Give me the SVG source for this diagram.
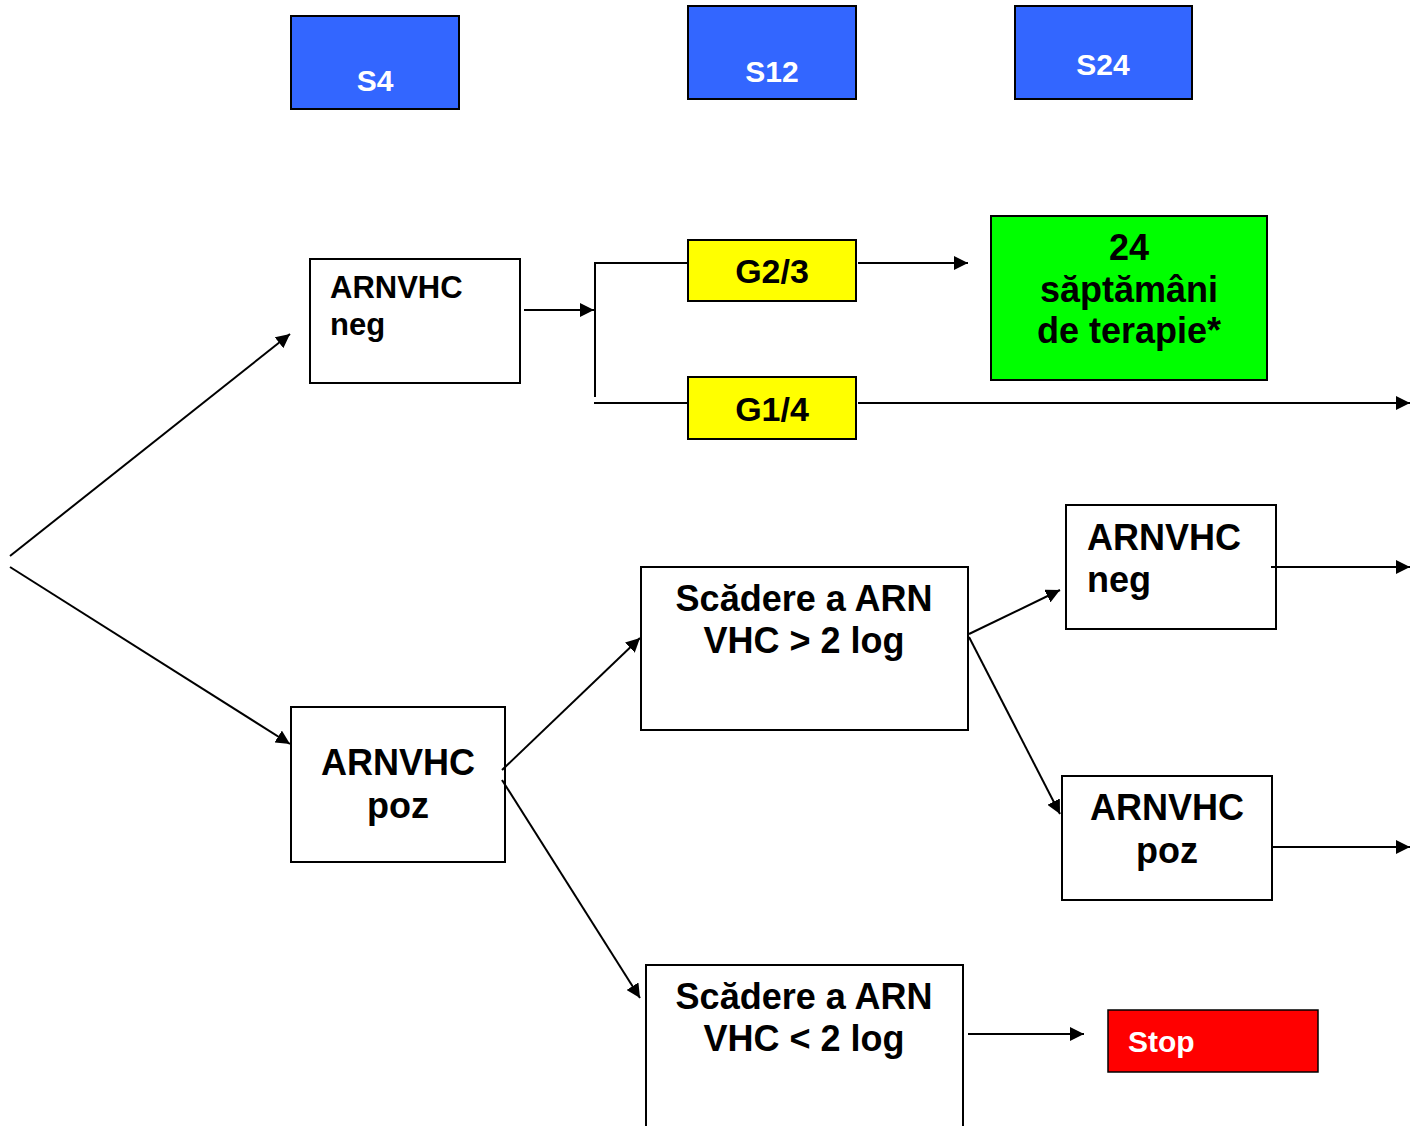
<svg xmlns="http://www.w3.org/2000/svg" width="1412" height="1126" viewBox="0 0 1412 1126">
<style>
text{font-family:"Liberation Sans",Arial,sans-serif;font-weight:bold;}
.box{fill:#fff;stroke:#000;stroke-width:2;}
.blue{fill:#3366ff;stroke:#000;stroke-width:2;}
.yel{fill:#ffff00;stroke:#000;stroke-width:2;}
.grn{fill:#00ff00;stroke:#000;stroke-width:2;}
.red{fill:#ff0000;stroke:#000;stroke-width:1.5;}
.wt{fill:#fff;font-size:30px;}
.t31{font-size:31px;fill:#000;}
.t36{font-size:36px;fill:#000;}
.t34{font-size:34px;fill:#000;}
.c{text-anchor:middle;}
.ln{stroke:#000;stroke-width:2;fill:none;}
</style>
<defs>
<marker id="ah" viewBox="0 0 10 10" refX="10" refY="5" markerWidth="8" markerHeight="8" markerUnits="userSpaceOnUse" orient="auto">
<path d="M0,0 L10,5 L0,10 z" fill="#000"/>
</marker>
<marker id="ahL" viewBox="0 0 10 10" refX="10" refY="5" markerWidth="14" markerHeight="14" markerUnits="userSpaceOnUse" orient="auto">
<path d="M0,0 L10,5 L0,10 z" fill="#000"/>
</marker>
</defs>
<g id="s4"><rect class="blue" x="291" y="16" width="168" height="93"/><text class="wt c" x="375" y="91">S4</text></g>
<g id="s12"><rect class="blue" x="688" y="6" width="168" height="93"/><text class="wt c" x="772" y="82">S12</text></g>
<g id="s24"><rect class="blue" x="1015" y="6" width="177" height="93"/><text class="wt c" x="1103" y="75">S24</text></g>
<g id="neg1"><rect class="box" x="310" y="259" width="210" height="124"/><text class="t31" x="330" y="298">ARNVHC</text><text class="t31" x="330" y="335">neg</text></g>
<g id="g23"><rect class="yel" x="688" y="240" width="168" height="61"/><text class="t34 c" x="772" y="283">G2/3</text></g>
<g id="g14"><rect class="yel" x="688" y="377" width="168" height="62"/><text class="t34 c" x="772" y="421">G1/4</text></g>
<g id="green"><rect class="grn" x="991" y="216" width="276" height="164"/><text class="t36 c" x="1129" y="260">24</text><text class="t36 c" x="1129" y="302">săptămâni</text><text class="t36 c" x="1129" y="343">de terapie*</text></g>
<g id="poz1"><rect class="box" x="291" y="707" width="214" height="155"/><text class="t36 c" x="398" y="775">ARNVHC</text><text class="t36 c" x="398" y="818">poz</text></g>
<g id="scgt"><rect class="box" x="641" y="567" width="327" height="163"/><text class="t36 c" x="804" y="611">Scădere a ARN</text><text class="t36 c" x="804" y="653">VHC &gt; 2 log</text></g>
<g id="neg2"><rect class="box" x="1066" y="505" width="210" height="124"/><text class="t36" x="1087" y="550">ARNVHC</text><text class="t36" x="1087" y="592">neg</text></g>
<g id="poz2"><rect class="box" x="1062" y="776" width="210" height="124"/><text class="t36 c" x="1167" y="820">ARNVHC</text><text class="t36 c" x="1167" y="863">poz</text></g>
<g id="sclt"><rect class="box" x="646" y="965" width="317" height="170"/><text class="t36 c" x="804" y="1009">Scădere a ARN</text><text class="t36 c" x="804" y="1051">VHC &lt; 2 log</text></g>
<g id="stop"><rect class="red" x="1108" y="1010" width="210" height="62"/><text class="wt" x="1128" y="1052">Stop</text></g>
<g id="connectors">
<line class="ln" x1="10" y1="556" x2="290" y2="334" marker-end="url(#ahL)"/>
<line class="ln" x1="10" y1="567" x2="290" y2="744" marker-end="url(#ahL)"/>
<line class="ln" x1="524" y1="310" x2="594" y2="310" marker-end="url(#ahL)"/>
<line class="ln" x1="595" y1="263" x2="595" y2="397"/>
<line class="ln" x1="594" y1="263" x2="688" y2="263"/>
<line class="ln" x1="594" y1="403" x2="688" y2="403"/>
<line class="ln" x1="858" y1="263" x2="968" y2="263" marker-end="url(#ahL)"/>
<line class="ln" x1="858" y1="403" x2="1410" y2="403" marker-end="url(#ahL)"/>
<line class="ln" x1="502" y1="770" x2="640" y2="638" marker-end="url(#ahL)"/>
<line class="ln" x1="502" y1="780" x2="640" y2="998" marker-end="url(#ahL)"/>
<line class="ln" x1="969" y1="634" x2="1060" y2="590" marker-end="url(#ahL)"/>
<line class="ln" x1="969" y1="637" x2="1060" y2="814" marker-end="url(#ahL)"/>
<line class="ln" x1="1271" y1="567" x2="1410" y2="567" marker-end="url(#ahL)"/>
<line class="ln" x1="1272" y1="847" x2="1410" y2="847" marker-end="url(#ahL)"/>
<line class="ln" x1="968" y1="1034" x2="1084" y2="1034" marker-end="url(#ahL)"/>
</g>
</svg>
